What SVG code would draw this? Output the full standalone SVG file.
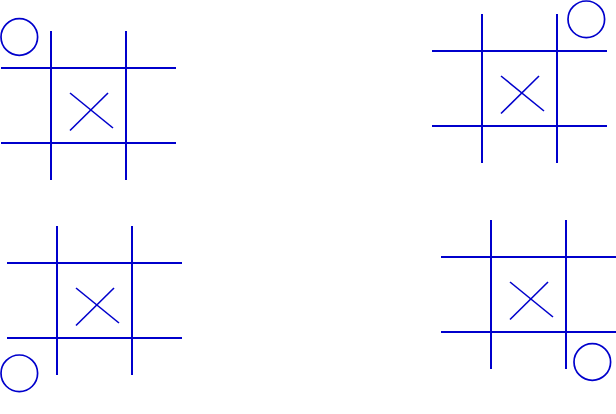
<svg xmlns="http://www.w3.org/2000/svg" xmlns:xlink="http://www.w3.org/1999/xlink" width="616" height="414" viewBox="0 0 616 414">
<style>
.g{stroke:#0000cc;stroke-width:2;fill:none}
.x{stroke:#0000cc;stroke-width:1.6;fill:none}
.o{stroke:#0000cc;stroke-width:1.7;fill:none}
</style>
<defs>
<g id="board">
<line class="g" x1="0" y1="-37" x2="0" y2="112"/>
<line class="g" x1="75" y1="-37" x2="75" y2="112"/>
<line class="g" x1="-50" y1="0" x2="125" y2="0"/>
<line class="g" x1="-50" y1="75" x2="125" y2="75"/>
<line class="x" x1="19" y1="25" x2="62" y2="60"/>
<line class="x" x1="19" y1="62.5" x2="57" y2="25"/>
</g>
</defs>
<rect width="616" height="414" fill="#fff"/>
<g id="board1">
<use xlink:href="#board" transform="translate(51,68)"/>
<circle class="o" cx="19.3" cy="37" r="18.3"/>
</g>
<g id="board2">
<use xlink:href="#board" transform="translate(482,51)"/>
<circle class="o" cx="586.3" cy="19.3" r="18.3"/>
</g>
<g id="board3">
<use xlink:href="#board" transform="translate(57,263)"/>
<circle class="o" cx="19.3" cy="373.3" r="18.3"/>
</g>
<g id="board4">
<use xlink:href="#board" transform="translate(491,257)"/>
<circle class="o" cx="592.3" cy="362" r="18.3"/>
</g>
<g id="connectors"></g>
</svg>
